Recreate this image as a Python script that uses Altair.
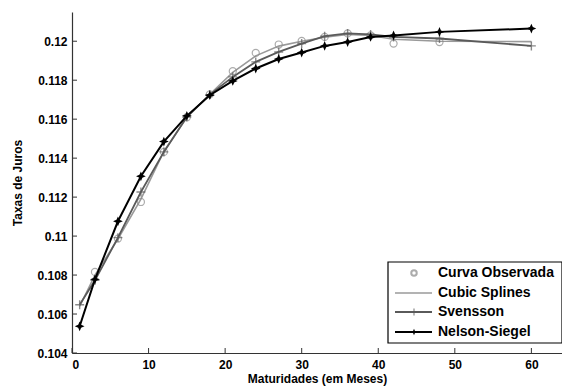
import altair as alt
import pandas as pd

maturidades = [1, 3, 6, 9, 12, 15, 18, 21, 24, 27, 30, 33, 36, 39, 42, 48, 60]
nelson_siegel = [0.10537, 0.10778, 0.11076, 0.11307, 0.11485, 0.11617, 0.11723, 0.11796,
                 0.11860, 0.11909, 0.11942, 0.11976, 0.11996, 0.12022, 0.12030, 0.12048, 0.12065]
svensson = [0.10648, 0.10773, 0.10992, 0.11226, 0.11432, 0.11611, 0.11726, 0.11817,
            0.11894, 0.11945, 0.11988, 0.12026, 0.12040, 0.12035, 0.12022, 0.12014, 0.11976]
cubic_splines = [0.10640, 0.10800, 0.10985, 0.11190, 0.11435, 0.11610, 0.11728, 0.11840,
                 0.11925, 0.11975, 0.12000, 0.12020, 0.12035, 0.12030, 0.12010, 0.12000, 0.11998]
obs_x = [3, 6, 9, 12, 15, 18, 21, 24, 27, 30, 33, 36, 39, 42, 48]
observada = [0.10816, 0.10987, 0.11175, 0.11432, 0.11610, 0.11727, 0.11846, 0.11940,
             0.11983, 0.12002, 0.12022, 0.12040, 0.12030, 0.11988, 0.11996]
x_ticks = [0, 10, 20, 30, 40, 50, 60]
y_ticks = [0.104, 0.106, 0.108, 0.11, 0.112, 0.114, 0.116, 0.118, 0.12]
legend_labels = ["Curva Observada", "Cubic Splines", "Svensson", "Nelson-Siegel"]

W, H = 490, 341
FONT = "Liberation Sans"

xs = alt.Scale(domain=[0, 64], nice=False, zero=False)
ys = alt.Scale(domain=[0.104, 0.1215], nice=False, zero=False)

df_ns = pd.DataFrame({"x": maturidades, "y": nelson_siegel})
df_sv = pd.DataFrame({"x": maturidades, "y": svensson})
df_cs = pd.DataFrame({"x": maturidades, "y": cubic_splines})
df_ob = pd.DataFrame({"x": obs_x, "y": observada})

STAR = "M0,-1L0.3,-0.3L1,0L0.3,0.3L0,1L-0.3,0.3L-1,0L-0.3,-0.3Z"
PLUS = "M-1,0L1,0M0,-1L0,1"

X = alt.X("x:Q", scale=xs, axis=alt.Axis(
    values=x_ticks, title="Maturidades (em Meses)", tickSize=0, labelPadding=6,
    labelFont=FONT, labelFontWeight="bold", labelFontSize=12, labelColor="black",
    titleFont=FONT, titleFontWeight="bold", titleFontSize=12, titleColor="black",
    titlePadding=3, domainColor="#333", domainWidth=1.2, grid=False))
Y = alt.Y("y:Q", scale=ys, axis=alt.Axis(
    values=y_ticks, format=".3~f", title="Taxas de Juros", tickSize=0, labelPadding=5,
    labelFont=FONT, labelFontWeight="bold", labelFontSize=12, labelColor="black",
    titleFont=FONT, titleFontWeight="bold", titleFontSize=12, titleColor="black",
    titlePadding=12, domainColor="#333", domainWidth=1.2, grid=False))

cs_line = alt.Chart(df_cs).mark_line(color="#9a9a9a", strokeWidth=1.6).encode(x=X, y=Y)
ob_pts = alt.Chart(df_ob).mark_point(shape="circle", filled=False, color="#8a8a8a",
                                     size=50, strokeWidth=1.2).encode(x="x:Q", y="y:Q")
sv_line = alt.Chart(df_sv).mark_line(color="#5a5a5a", strokeWidth=1.8).encode(x="x:Q", y="y:Q")
sv_pts = alt.Chart(df_sv).mark_point(shape=PLUS, filled=False, color="#5a5a5a",
                                     size=80, strokeWidth=1.4).encode(x="x:Q", y="y:Q")
ns_line = alt.Chart(df_ns).mark_line(color="black", strokeWidth=2).encode(x="x:Q", y="y:Q")
ns_pts = alt.Chart(df_ns).mark_point(shape=STAR, filled=True, color="black",
                                     size=95, opacity=1).encode(x="x:Q", y="y:Q")

# inward ticks
xt = alt.Chart(pd.DataFrame({"x": x_ticks})).mark_rule(color="#333", strokeWidth=1).encode(
    x="x:Q", y=alt.value(H), y2=alt.value(H - 5))
yt = alt.Chart(pd.DataFrame({"y": y_ticks})).mark_rule(color="#333", strokeWidth=1).encode(
    y="y:Q", x=alt.value(0), x2=alt.value(5))

# legend
LX0, LY0, LX1, LY1 = 316, 250, 490, 331
box = alt.Chart(pd.DataFrame({"a": [0]})).mark_rect(
    fill="white", stroke="black", strokeWidth=1.2).encode(
    x=alt.value(LX0), x2=alt.value(LX1), y=alt.value(LY0), y2=alt.value(LY1))
rows = [261, 281, 300, 320]
leg_text = alt.Chart(pd.DataFrame({"t": legend_labels, "py": rows})).mark_text(
    align="left", baseline="middle", font=FONT, fontWeight="bold", fontSize=14,
    color="black").encode(text="t:N", x=alt.value(366), y=alt.Y("py:Q", scale=None))
leg_cs = alt.Chart(pd.DataFrame({"a": [0]})).mark_rule(color="#9a9a9a", strokeWidth=1.6).encode(
    x=alt.value(323), x2=alt.value(360), y=alt.value(rows[1]))
leg_sv = alt.Chart(pd.DataFrame({"a": [0]})).mark_rule(color="#5a5a5a", strokeWidth=1.8).encode(
    x=alt.value(323), x2=alt.value(360), y=alt.value(rows[2]))
leg_ns = alt.Chart(pd.DataFrame({"a": [0]})).mark_rule(color="black", strokeWidth=2).encode(
    x=alt.value(323), x2=alt.value(360), y=alt.value(rows[3]))
leg_ob_m = alt.Chart(pd.DataFrame({"a": [0]})).mark_point(
    shape="circle", filled=False, color="#8a8a8a", size=30).encode(
    x=alt.value(342), y=alt.value(rows[0]))
leg_sv_m = alt.Chart(pd.DataFrame({"a": [0]})).mark_point(
    shape=PLUS, filled=False, color="#5a5a5a", size=50, strokeWidth=1.2).encode(
    x=alt.value(342), y=alt.value(rows[2]))
leg_ns_m = alt.Chart(pd.DataFrame({"a": [0]})).mark_point(
    shape=STAR, filled=True, color="black", size=40, opacity=1).encode(
    x=alt.value(342), y=alt.value(rows[3]))

chart = alt.layer(
    cs_line, ob_pts, sv_line, sv_pts, ns_line, ns_pts, xt, yt,
    box, leg_cs, leg_sv, leg_ns, leg_ob_m, leg_sv_m, leg_ns_m, leg_text
).properties(
    width=W, height=H,
    autosize=alt.AutoSizeParams(type="none"),
    padding={"left": 72, "top": 12, "right": 0, "bottom": 36},
    background="white",
).configure_view(stroke=None)

chart.save("out.html", embed_options={"renderer": "svg", "actions": False})
